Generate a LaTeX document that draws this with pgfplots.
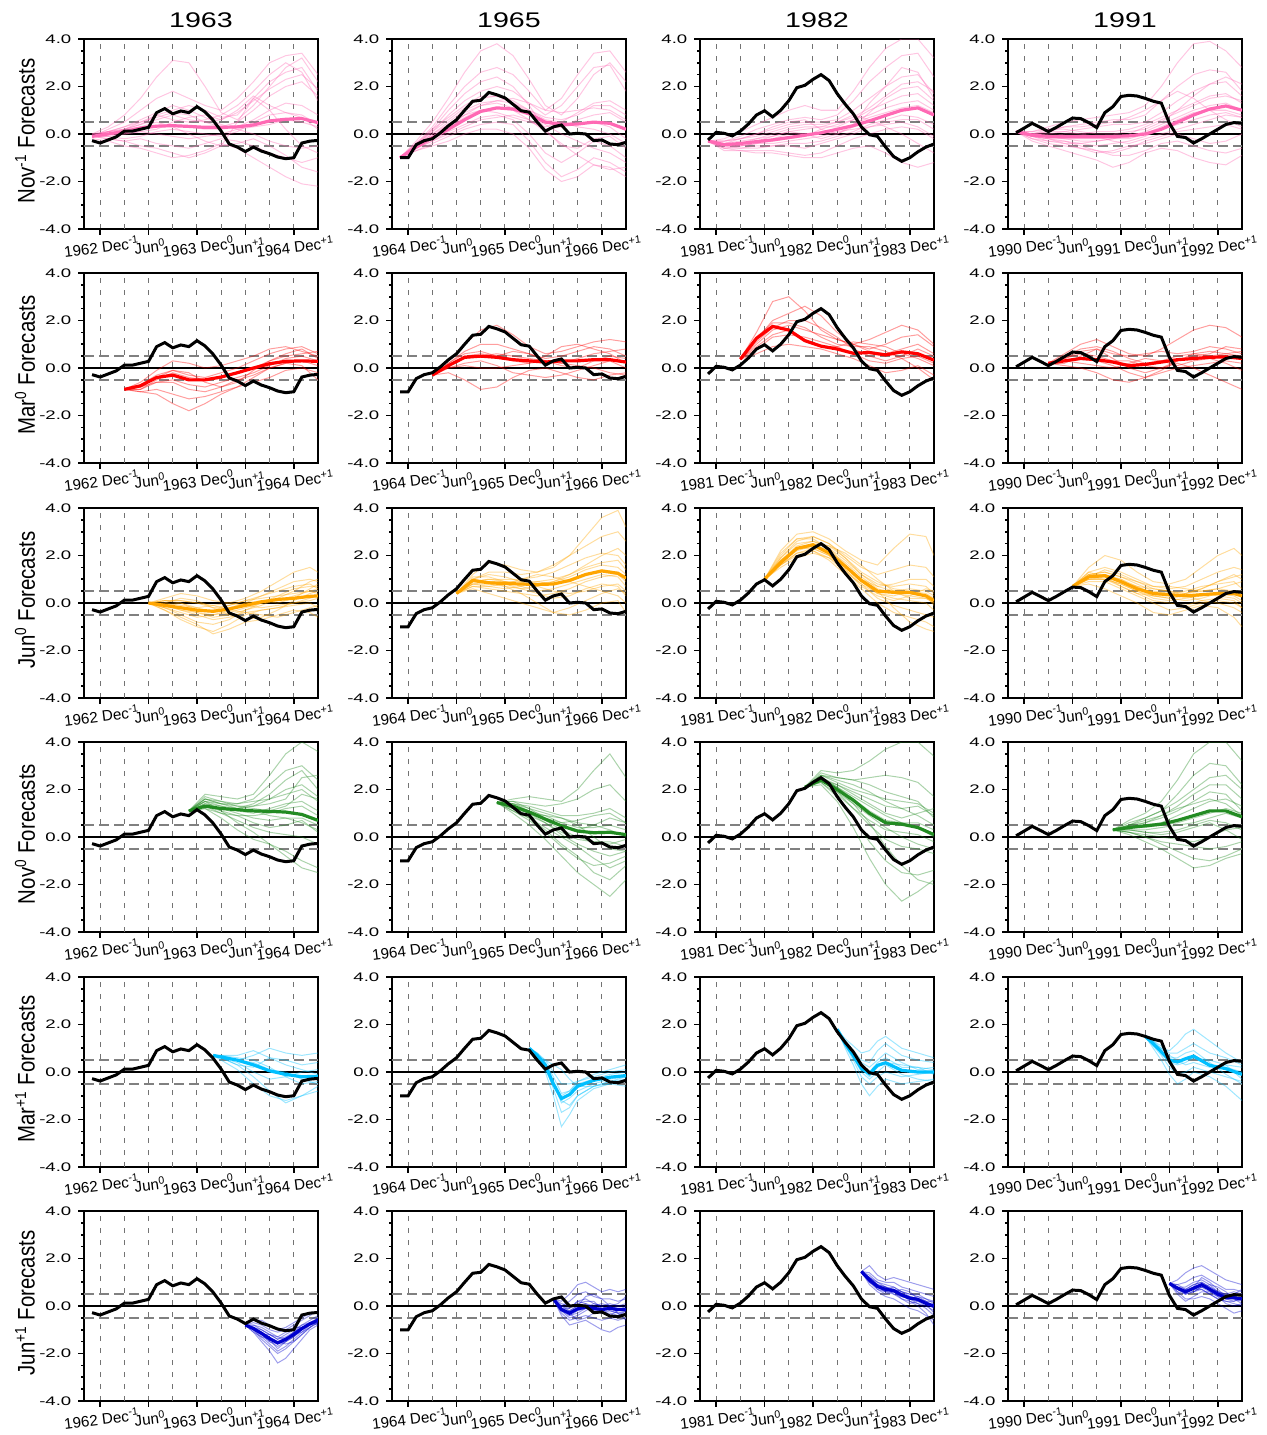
\documentclass[border=0pt]{standalone}
\usepackage{pgfplots}
\usepackage{pgfplotstable}
\pgfplotsset{compat=1.18}
\usepackage{fontspec}
\setmainfont{Liberation Sans}
\newfontfamily\ytickfont{Liberation Sans}[FakeStretch=1.5]
\newfontfamily\titlefont{Liberation Sans}[FakeStretch=1.35]
\newfontfamily\ylabfont{Liberation Sans}[FakeStretch=0.85]

\definecolor{cpink}{HTML}{FF69B4}
\definecolor{cred}{HTML}{FF0000}
\definecolor{corange}{HTML}{FFA500}
\definecolor{cgreen}{HTML}{228B22}
\definecolor{ccyan}{HTML}{00BFFF}
\definecolor{cblue}{HTML}{0000CD}

\pgfplotsset{
  panel/.style={scale only axis, width=117pt, height=95pt, anchor=north west,
    xmin=-2, xmax=27, ymin=-4, ymax=4,
    xtick={0,6,12,18,24}, xmajorgrids,
    extra x ticks={3,9,15,21}, extra x tick labels={},
    extra x tick style={major tick length=0pt, grid=major},
    ytick={-4,-2,0,2,4}, yticklabels={-4.0,-2.0,0.0,2.0,4.0},
    minor y tick num=3,
    tick align=outside, tick pos=left,
    major tick length=2.8pt, minor tick length=1.4pt,
    every tick/.style={black, line width=0.8pt},
    axis line style={line width=1.2pt},
    major grid style={black!55, line width=0.5pt, dash pattern=on 2.5pt off 3.5pt},
    yticklabel style={font=\ytickfont\fontsize{6.2}{7}\selectfont},
    xticklabel style={font=\fontsize{7.6}{8}\selectfont, rotate=7, anchor=north, inner sep=1pt, yshift=-1.5pt},
  },
  mem/.style={line width=0.5pt, opacity=0.38},
  meanl/.style={line width=1.6pt},
  obsl/.style={black, line width=1.5pt},
}

\newcommand{\refl}{%
  \draw[black!50, line width=0.7pt, dash pattern=on 5pt off 2.5pt] (axis cs:-2,0.5) -- (axis cs:27,0.5);
  \draw[black!50, line width=0.7pt, dash pattern=on 5pt off 2.5pt] (axis cs:-2,-0.5) -- (axis cs:27,-0.5);
  \draw[black, line width=0.6pt] (axis cs:-2,0) -- (axis cs:27,0);}

% #1 x, #2 y, #3 year, #4 table, #5 colour, #6 members, #7 observed
\newcommand{\panel}[7]{%
\begin{axis}[panel, at={(#1pt,#2pt)},
  xticklabels={{\the\numexpr#3-1\relax\ Dec\textsuperscript{-1}},{Jun\textsuperscript{0}},{#3 Dec\textsuperscript{0}},{Jun\textsuperscript{+1}},{\the\numexpr#3+1\relax\ Dec\textsuperscript{+1}}}]
\refl
\pgfplotsinvokeforeach{1,...,#6}{\addplot[#5, mem] table[x=x, y=e##1] {#4};}
\addplot[#5, meanl] table[x=x, y=m] {#4};
\addplot[obsl] table[x=x, y=y] {#7};
\end{axis}}

% observed index, one table per event year
\pgfplotstableread[row sep=\\]{x y\\ -1 -0.28\\ 0 -0.38\\ 1 -0.25\\ 2 -0.12\\ 3 0.12\\ 4 0.12\\ 5 0.2\\ 6 0.28\\ 7 0.9\\ 8 1.07\\ 9 0.85\\ 10 0.97\\ 11 0.9\\ 12 1.15\\ 13 0.93\\ 14 0.58\\ 15 0.12\\ 16 -0.42\\ 17 -0.55\\ 18 -0.74\\ 19 -0.55\\ 20 -0.72\\ 21 -0.83\\ 22 -0.97\\ 23 -1.04\\ 24 -1.0\\ 25 -0.38\\ 26 -0.3\\ 27 -0.27\\}\obsA
\pgfplotstableread[row sep=\\]{x y\\ -1 -1.0\\ 0 -1.0\\ 1 -0.45\\ 2 -0.28\\ 3 -0.2\\ 4 0.05\\ 5 0.35\\ 6 0.6\\ 7 1.0\\ 8 1.38\\ 9 1.42\\ 10 1.75\\ 11 1.65\\ 12 1.52\\ 13 1.25\\ 14 0.98\\ 15 0.92\\ 16 0.5\\ 17 0.12\\ 18 0.3\\ 19 0.38\\ 20 0.0\\ 21 0.03\\ 22 0.0\\ 23 -0.28\\ 24 -0.25\\ 25 -0.42\\ 26 -0.45\\ 27 -0.35\\}\obsB
\pgfplotstableread[row sep=\\]{x y\\ -1 -0.25\\ 0 0.07\\ 1 0.03\\ 2 -0.08\\ 3 0.12\\ 4 0.42\\ 5 0.8\\ 6 0.98\\ 7 0.72\\ 8 1.0\\ 9 1.4\\ 10 1.95\\ 11 2.05\\ 12 2.3\\ 13 2.5\\ 14 2.25\\ 15 1.7\\ 16 1.25\\ 17 0.85\\ 18 0.3\\ 19 -0.03\\ 20 -0.1\\ 21 -0.55\\ 22 -0.95\\ 23 -1.15\\ 24 -1.0\\ 25 -0.75\\ 26 -0.55\\ 27 -0.42\\}\obsC
\pgfplotstableread[row sep=\\]{x y\\ -1 0.05\\ 0 0.25\\ 1 0.45\\ 2 0.28\\ 3 0.1\\ 4 0.28\\ 5 0.48\\ 6 0.67\\ 7 0.65\\ 8 0.48\\ 9 0.27\\ 10 0.9\\ 11 1.15\\ 12 1.58\\ 13 1.63\\ 14 1.6\\ 15 1.5\\ 16 1.38\\ 17 1.3\\ 18 0.45\\ 19 -0.1\\ 20 -0.15\\ 21 -0.38\\ 22 -0.2\\ 23 0.0\\ 24 0.2\\ 25 0.4\\ 26 0.48\\ 27 0.45\\}\obsD

% forecasts: one line per member (x, ensemble mean m, members e1...), transposed after reading
% --- Nov^-1 start
\pgfplotstableread[header=false]{
x -1 1 3 5 7 9 11 13 15 17 19 21 23 25 27
m -0.1 0.0 0.1 0.25 0.33 0.35 0.32 0.28 0.28 0.3 0.38 0.55 0.62 0.65 0.48
e1 0 0.3 0.8 1.5 2.4 3.1 3.0 2.0 0.9 0.6 1.2 2.0 2.8 3.2 2.2
e2 -0.1 0.2 0.5 1.0 1.5 1.8 1.5 1.2 1.0 1.5 2.2 3.0 3.3 3.4 2.5
e3 0 0.1 0.3 0.5 0.8 1.0 1.2 1.0 0.7 0.8 1.5 2.2 2.6 2.8 1.8
e4 -0.1 0 0.2 0.4 0.6 0.8 0.6 0.5 0.3 0.5 1.0 1.6 2.0 2.2 1.6
e5 -0.1 0.1 0.1 0.2 0.3 0.4 0.3 0.2 0.2 0.3 0.6 1.0 1.3 1.2 0.8
e6 -0.1 -0.1 0 0.1 0 -0.1 -0.2 -0.1 0 0.2 0.3 0.4 0.6 0.5 0.3
e7 -0.1 -0.2 -0.3 -0.2 -0.4 -0.5 -0.6 -0.4 -0.2 -0.3 -0.5 -0.8 -1.0 -1.2 -1.0
e8 -0.2 -0.3 -0.5 -0.6 -0.8 -1.0 -0.9 -0.7 -0.4 -0.6 -1.0 -1.4 -1.8 -2.1 -2.2
e9 -0.1 -0.2 -0.3 -0.5 -0.6 -0.8 -1.0 -0.8 -0.5 0.5 1.5 1.0 0.2 -0.5 -0.8
e10 0 0.1 0.2 0.4 0.8 0.6 0.5 0.6 0.8 1.2 1.8 2.5 3.0 2.6 1.4
e11 -0.1 0.1 0.3 0.6 0.9 1.2 1.0 0.7 0.4 0.2 0.0 -0.3 -0.5 -0.6 -0.5
e12 -0.1 0.0 0.0 0.1 0.2 0.5 0.7 0.8 0.6 0.9 1.4 1.9 2.3 2.5 1.9
e13 -0.1 -0.1 -0.2 -0.1 0.1 0.2 0.1 0.0 -0.1 0.1 0.5 0.8 0.9 0.7 0.2
e14 -0.1 0.0 0.2 0.3 0.5 0.3 0.0 -0.3 -0.5 -0.4 -0.2 -0.5 -0.9 -1.4 -1.6
e15 -0.1 0.1 0.2 0.5 0.7 0.9 0.8 0.5 0.6 1.0 1.6 1.2 0.9 0.8 0.4
}\rawtab
\pgfplotstabletranspose[colnames from=0]{\TAa}{\rawtab}
\pgfplotstableread[header=false]{
x -1 1 3 5 7 9 11 13 15 17 19 21 23 25 27
m -1.0 -0.55 -0.15 0.2 0.6 0.95 1.1 1.05 0.85 0.5 0.4 0.42 0.5 0.45 0.2
e1 -1 -0.3 0.5 1.5 2.6 3.5 3.8 3.3 2.3 1.2 0.8 1.5 2.5 3.0 2.2
e2 -1 -0.4 0.3 1.2 2.0 2.6 2.8 2.5 1.8 1.0 1.5 2.5 3.4 3.5 2.6
e3 -1 -0.5 0.1 0.8 1.4 1.8 2.0 1.8 1.3 0.8 1.2 2.0 2.8 2.9 1.8
e4 -1 -0.5 0.0 0.5 1.0 1.3 1.4 1.3 1.0 0.7 0.6 0.8 1.2 1.2 0.8
e5 -1 -0.6 -0.1 0.3 0.7 1.0 1.1 1.0 0.6 0.2 0.3 0.6 0.8 0.9 0.5
e6 -1 -0.6 -0.3 0.1 0.4 0.7 0.8 0.6 0.0 -0.8 -1.2 -0.8 -0.3 -0.5 -1.0
e7 -1 -0.7 -0.4 -0.1 0.2 0.4 0.5 0.4 -0.3 -1.2 -1.8 -1.5 -1.0 -1.2 -1.6
e8 -1 -0.7 -0.5 -0.3 0.0 0.2 0.2 0.0 -0.6 -1.5 -2.0 -1.8 -1.3 -1.4 -1.8
e9 -1 -0.5 0.2 1.0 1.7 2.2 2.4 2.0 1.2 0.2 -0.5 -0.6 -0.2 -0.1 -0.6
e10 -1 -0.4 0.2 0.7 1.2 1.6 1.6 1.3 0.9 0.5 0.3 0.4 0.5 0.3 -0.2
e11 -1 -0.5 0.0 0.4 0.9 1.2 1.3 1.1 0.8 0.4 0.0 -0.3 -0.6 -0.8 -1.2
e12 -1 -0.6 -0.2 0.3 0.8 1.2 1.4 1.5 1.3 1.0 0.9 1.0 1.1 1.0 0.6
e13 -1 -0.5 -0.1 0.4 0.8 1.0 0.9 0.7 0.5 0.3 0.5 0.9 1.3 1.4 1.0
e14 -1 -0.6 -0.3 0.0 0.3 0.6 0.7 0.8 0.6 0.1 -0.4 -0.9 -1.3 -1.5 -1.4
e15 -1 -0.4 0.1 0.6 1.1 1.5 1.6 1.4 1.0 0.6 0.5 0.3 0.2 0.0 -0.4
}\rawtab
\pgfplotstabletranspose[colnames from=0]{\TBa}{\rawtab}
\pgfplotstableread[header=false]{
x -1 1 3 5 7 9 11 13 15 17 19 21 23 25 27
m -0.3 -0.45 -0.4 -0.32 -0.25 -0.15 -0.05 0.05 0.2 0.35 0.55 0.78 1.0 1.1 0.8
e1 -0.3 -0.2 0.1 0.4 0.7 1.0 1.2 1.0 1.0 1.8 2.8 3.6 4.0 4.0 3.2
e2 -0.3 -0.3 -0.1 0.2 0.4 0.6 0.7 0.6 0.8 1.4 2.2 2.8 3.3 3.4 2.4
e3 -0.3 -0.4 -0.2 0.0 0.2 0.4 0.5 0.5 0.6 1.0 1.5 2.0 2.4 2.5 1.7
e4 -0.3 -0.5 -0.4 -0.2 0.0 0.2 0.3 0.3 0.3 0.6 1.0 1.3 1.6 1.7 1.2
e5 -0.3 -0.5 -0.5 -0.4 -0.2 0.0 0.0 0.0 0.2 0.4 0.7 0.9 1.1 1.2 0.9
e6 -0.3 -0.6 -0.6 -0.5 -0.5 -0.4 -0.4 -0.3 -0.1 0.1 0.4 0.6 0.8 0.7 0.4
e7 -0.3 -0.7 -0.7 -0.7 -0.7 -0.8 -0.9 -0.8 -0.5 -0.2 0.0 0.2 0.3 0.2 -0.2
e8 -0.3 -0.6 -0.7 -0.8 -0.8 -0.9 -1.0 -1.0 -0.8 -0.6 -0.5 -0.8 -1.2 -1.4 -1.2
e9 -0.3 -0.3 -0.2 0.0 0.3 0.5 0.6 0.2 0.0 0.4 1.3 2.0 2.8 2.6 1.5
e10 -0.3 -0.4 -0.3 -0.2 -0.1 0.1 0.2 0.3 0.5 0.8 0.6 0.3 0.0 -0.4 -0.8
e11 -0.3 -0.5 -0.4 -0.3 -0.1 0.1 0.0 -0.2 0.0 0.3 0.9 1.5 1.9 2.0 1.4
e12 -0.3 -0.4 -0.5 -0.4 -0.3 -0.2 -0.1 0.2 0.4 0.6 0.8 1.1 1.3 1.4 1.0
e13 -0.3 -0.6 -0.5 -0.4 -0.4 -0.3 -0.2 -0.1 0.1 0.2 0.3 0.5 0.6 0.6 0.2
e14 -0.3 -0.3 -0.2 -0.1 0.1 0.3 0.4 0.4 0.5 0.7 1.1 1.6 2.1 2.2 1.8
e15 -0.3 -0.5 -0.6 -0.6 -0.5 -0.5 -0.6 -0.4 -0.2 0.0 0.3 0.4 0.5 0.3 -0.1
}\rawtab
\pgfplotstabletranspose[colnames from=0]{\TCa}{\rawtab}
\pgfplotstableread[header=false]{
x -1 1 3 5 7 9 11 13 15 17 19 21 23 25 27
m 0.1 -0.05 -0.1 -0.12 -0.12 -0.12 -0.1 -0.08 0.0 0.2 0.5 0.8 1.05 1.18 1.0
e1 0.1 0.1 0.3 0.5 0.6 0.7 0.8 0.9 1.2 2.0 3.0 3.8 3.9 3.5 2.8
e2 0.1 0.0 0.1 0.3 0.4 0.5 0.6 0.6 0.8 1.4 2.0 2.5 2.7 2.6 1.8
e3 0.1 0.0 0.0 0.1 0.2 0.3 0.4 0.4 0.5 0.9 1.4 1.8 2.1 2.2 1.6
e4 0.1 -0.1 -0.1 0.0 0.0 0.1 0.1 0.2 0.4 0.7 1.0 1.3 1.6 1.7 1.3
e5 0.1 -0.1 -0.2 -0.2 -0.2 -0.2 -0.2 -0.1 0.1 0.4 0.7 1.0 1.2 1.3 1.0
e6 0.1 -0.2 -0.3 -0.4 -0.4 -0.5 -0.4 -0.3 -0.1 0.2 0.4 0.6 0.8 0.9 0.7
e7 0.1 -0.2 -0.4 -0.5 -0.6 -0.7 -0.8 -0.6 -0.3 -0.1 0.1 0.2 0.3 0.4 0.2
e8 0.1 -0.3 -0.5 -0.7 -0.9 -1.1 -1.4 -1.2 -0.8 -0.6 -0.7 -1.0 -1.2 -1.3 -0.9
e9 0.1 -0.1 -0.2 -0.3 -0.5 -0.7 -0.9 -0.9 -0.7 -0.4 -0.3 -0.5 -0.7 -0.8 -0.6
e10 0.1 0.0 0.2 0.3 0.3 0.4 0.5 0.7 1.0 1.4 1.8 1.5 1.0 0.6 0.3
e11 0.1 0.0 -0.1 -0.2 -0.3 -0.3 -0.2 0.0 0.3 0.6 0.9 1.2 1.5 1.6 1.4
e12 0.1 -0.1 -0.3 -0.3 -0.4 -0.3 -0.2 -0.2 0.0 0.3 0.6 0.9 1.0 1.0 0.8
e13 0.1 0.0 0.1 0.1 0.0 -0.1 -0.3 -0.4 -0.2 0.0 0.2 0.4 0.6 0.8 0.7
e14 0.1 -0.1 -0.2 -0.4 -0.6 -0.8 -0.7 -0.5 -0.4 -0.2 0.0 -0.2 -0.4 -0.3 0.0
e15 0.1 0.1 0.2 0.2 0.1 0.0 0.0 0.1 0.2 0.5 1.0 1.6 2.1 2.4 2.1
}\rawtab
\pgfplotstabletranspose[colnames from=0]{\TDa}{\rawtab}
% --- Mar^0 start
\pgfplotstableread[header=false]{
x 3 5 7 9 11 13 15 17 19 21 23 25 27
m -0.9 -0.75 -0.4 -0.3 -0.5 -0.5 -0.38 -0.2 0.0 0.18 0.28 0.3 0.28
e1 -0.9 -0.6 -0.1 0.3 0.2 0.0 0.1 0.3 0.5 0.8 0.9 0.7 0.5
e2 -0.9 -0.8 -0.4 -0.1 -0.3 -0.4 -0.2 0.0 0.3 0.6 0.8 0.9 0.6
e3 -0.9 -0.9 -0.6 -0.5 -0.7 -0.8 -0.6 -0.4 -0.2 0.1 0.4 0.5 0.3
e4 -0.9 -1.0 -1.1 -1.5 -1.8 -1.5 -1.1 -0.8 -0.4 0.0 0.2 0.3 0.1
e5 -0.9 -1.0 -0.9 -1.1 -1.3 -1.2 -1.0 -0.8 -0.6 -0.4 -0.1 0.0 -0.2
e6 -0.9 -0.7 -0.3 -0.1 -0.2 -0.6 -0.8 -0.6 -0.1 0.3 0.5 0.6 0.7
e7 -0.9 -0.8 -0.6 -0.6 -0.9 -1.0 -0.8 -0.5 -0.3 0.0 0.2 0.1 -0.5
e8 -0.9 -0.9 -0.5 -0.2 -0.4 -0.5 -0.4 -0.2 0.0 0.3 0.6 0.8 0.4
}\rawtab
\pgfplotstabletranspose[colnames from=0]{\TAb}{\rawtab}
\pgfplotstableread[header=false]{
x 3 5 7 9 11 13 15 17 19 21 23 25 27
m -0.3 0.1 0.45 0.5 0.45 0.35 0.3 0.25 0.3 0.3 0.35 0.35 0.25
e1 -0.3 0.3 1.0 1.6 1.8 1.4 0.9 0.6 0.7 0.9 1.1 1.2 1.1
e2 -0.3 0.2 0.7 1.0 1.0 0.8 0.6 0.4 0.5 0.7 0.9 0.8 0.5
e3 -0.3 0.1 0.4 0.5 0.6 0.5 0.4 0.3 0.2 0.4 0.6 0.7 0.8
e4 -0.3 0.0 0.1 0.0 0.0 0.1 0.2 0.3 0.2 0.1 0.0 -0.2 -0.3
e5 -0.3 -0.2 -0.5 -0.9 -0.8 -0.4 -0.1 0.0 -0.2 -0.4 -0.5 -0.3 -0.2
e6 -0.3 0.2 0.6 0.7 0.5 0.3 0.2 0.5 0.9 1.0 0.8 0.6 0.2
e7 -0.3 0.0 0.2 0.3 0.1 -0.2 -0.3 -0.4 -0.3 -0.1 0.1 0.3 0.0
e8 -0.3 0.1 0.5 0.6 0.5 0.7 0.6 0.3 0.1 0.0 0.3 0.5 0.4
}\rawtab
\pgfplotstabletranspose[colnames from=0]{\TBb}{\rawtab}
\pgfplotstableread[header=false]{
x 3 5 7 9 11 13 15 17 19 21 23 25 27
m 0.37 1.25 1.75 1.6 1.15 0.92 0.8 0.62 0.65 0.55 0.68 0.6 0.33
e1 0.37 1.5 2.8 3.0 2.4 1.6 1.2 1.0 1.2 1.5 1.8 1.6 1.0
e2 0.37 1.2 2.0 2.3 2.6 2.2 1.5 1.0 0.8 1.0 1.3 1.4 0.9
e3 0.37 1.0 1.6 1.8 1.6 1.4 1.2 1.0 0.7 0.6 0.8 1.0 0.6
e4 0.37 0.8 1.3 1.4 1.3 1.1 0.9 0.6 0.3 0.2 0.4 0.5 0.2
e5 0.37 0.6 0.9 1.0 0.9 0.8 0.6 0.4 0.1 -0.2 -0.1 0.1 -0.3
e6 0.37 1.3 1.9 1.9 1.7 1.3 1.0 0.9 0.9 0.7 0.4 0.0 -0.5
e7 0.37 1.1 1.7 2.0 2.0 1.7 1.3 0.8 0.5 0.3 0.5 0.8 0.5
e8 0.37 0.9 1.4 1.6 1.2 0.9 0.9 1.1 1.0 0.9 0.6 0.4 0.1
}\rawtab
\pgfplotstabletranspose[colnames from=0]{\TCb}{\rawtab}
\pgfplotstableread[header=false]{
x 3 5 7 9 11 13 15 17 19 21 23 25 27
m 0.2 0.3 0.4 0.35 0.25 0.1 0.15 0.25 0.35 0.4 0.45 0.47 0.4
e1 0.2 0.6 1.0 1.2 0.9 0.6 0.5 0.8 1.2 1.6 1.8 1.7 1.3
e2 0.2 0.4 0.7 0.8 0.6 0.5 0.6 0.7 0.6 0.7 0.9 0.8 0.6
e3 0.2 0.3 0.4 0.3 0.1 -0.2 -0.4 -0.1 0.3 0.6 0.7 0.6 0.5
e4 0.2 0.1 0.0 -0.2 -0.5 -0.6 -0.4 -0.2 0.0 0.1 0.2 0.3 0.2
e5 0.2 0.2 0.5 0.8 0.4 0.0 -0.2 0.0 0.2 0.0 -0.3 -0.6 -0.9
e6 0.2 0.5 0.8 0.9 0.7 0.4 0.2 0.3 0.5 0.6 0.5 0.6 0.7
e7 0.2 0.3 0.2 0.1 0.0 0.2 0.4 0.3 0.1 0.3 0.4 0.2 -0.1
e8 0.2 0.4 0.6 0.5 0.3 0.3 0.1 0.0 0.3 0.5 0.6 0.9 0.8
}\rawtab
\pgfplotstabletranspose[colnames from=0]{\TDb}{\rawtab}
% --- Jun^0 start
\pgfplotstableread[header=false]{
x 6 8 10 12 14 16 18 20 22 24 26 27
m 0 -0.1 -0.2 -0.3 -0.35 -0.25 -0.1 0.05 0.15 0.2 0.28 0.3
e1 0 0.2 0.4 0.3 0.1 0.0 0.2 0.5 0.9 1.3 1.5 1.3
e2 0 0.1 0.1 0.0 -0.2 -0.1 0.1 0.3 0.6 0.9 1.0 0.9
e3 0 -0.2 -0.4 -0.6 -0.5 -0.3 0.0 0.3 0.5 0.7 0.8 0.6
e4 0 -0.3 -0.7 -1.0 -1.2 -0.9 -0.5 -0.3 -0.2 0.0 0.2 0.3
e5 0 -0.1 -0.3 -0.5 -0.7 -0.6 -0.4 -0.5 -0.6 -0.4 -0.2 -0.1
e6 0 0.0 0.2 0.1 -0.2 -0.5 -0.7 -0.6 -0.3 0.1 0.4 0.5
e7 0 -0.2 -0.5 -0.8 -0.9 -0.7 -0.3 0.0 0.3 0.6 0.7 0.7
e8 0 -0.1 0.0 -0.3 -0.3 -0.1 0.1 0.2 0.3 0.4 0.5 0.4
e9 0 -0.3 -0.6 -0.9 -1.3 -1.1 -0.8 -0.7 -0.5 -0.3 -0.4 -0.6
e10 0 0.1 0.0 -0.2 -0.4 -0.2 0.0 0.1 0.0 0.2 0.6 0.8
e11 0 -0.1 -0.3 -0.4 -0.5 -0.4 -0.2 0.0 0.1 0.3 0.5 0.6
e12 0 0.0 -0.1 -0.2 -0.1 0.0 -0.1 -0.2 -0.1 0.0 0.1 0.2
e13 0 -0.2 -0.2 -0.4 -0.6 -0.5 -0.3 -0.1 0.2 0.5 0.9 1.0
e14 0 0.1 0.1 0.0 -0.1 -0.3 -0.4 -0.3 -0.2 -0.1 0.0 -0.2
}\rawtab
\pgfplotstabletranspose[colnames from=0]{\TAc}{\rawtab}
\pgfplotstableread[header=false]{
x 6 8 10 12 14 16 18 20 22 24 26 27
m 0.4 0.95 0.85 0.82 0.8 0.78 0.8 0.95 1.2 1.35 1.25 1.05
e1 0.4 1.2 1.7 1.6 1.4 1.3 1.5 2.0 2.8 3.6 3.9 3.2
e2 0.4 1.0 1.3 1.3 1.2 1.3 1.6 2.0 2.4 2.8 3.0 2.6
e3 0.4 0.9 1.0 1.0 1.0 1.1 1.3 1.6 1.9 2.1 2.0 1.6
e4 0.4 0.8 0.8 0.7 0.6 0.7 0.9 1.2 1.5 1.7 1.8 1.4
e5 0.4 0.7 0.6 0.5 0.4 0.3 0.4 0.6 0.9 1.1 1.2 0.9
e6 0.4 0.6 0.4 0.2 0.0 -0.2 -0.4 -0.2 0.1 0.4 0.6 0.4
e7 0.4 0.8 0.9 0.7 0.4 0.0 -0.4 -0.5 -0.3 0.0 0.1 -0.4
e8 0.4 1.0 1.2 1.1 0.9 0.7 0.5 0.4 0.5 0.7 0.8 0.5
e9 0.4 0.9 1.0 0.9 0.9 0.9 0.8 0.9 1.2 1.4 1.3 1.0
e10 0.4 0.7 0.7 0.8 1.0 1.2 1.1 0.9 0.7 0.5 0.3 0.0
e11 0.4 0.9 0.9 0.9 0.8 0.8 0.9 1.1 1.4 1.6 1.5 1.2
e12 0.4 1.1 1.1 0.9 0.7 0.5 0.6 0.8 1.0 1.2 1.1 0.7
e13 0.4 0.8 0.7 0.6 0.7 0.9 1.0 1.2 1.6 2.0 2.3 2.0
e14 0.4 1.0 0.9 0.8 0.6 0.4 0.2 0.3 0.6 0.8 0.7 0.3
}\rawtab
\pgfplotstabletranspose[colnames from=0]{\TBc}{\rawtab}
\pgfplotstableread[header=false]{
x 6 8 10 12 14 16 18 20 22 24 26 27
m 1.0 1.7 2.3 2.45 2.1 1.55 0.95 0.5 0.45 0.44 0.3 0.1
e1 1.0 2.2 2.9 3.0 2.7 2.2 1.8 1.6 2.3 2.9 2.8 2.0
e2 1.0 2.0 2.7 2.8 2.5 2.0 1.5 1.2 1.4 1.6 1.5 1.1
e3 1.0 1.9 2.5 2.6 2.3 1.8 1.2 0.8 0.7 0.8 0.7 0.4
e4 1.0 1.7 2.2 2.4 2.1 1.5 0.9 0.4 0.2 0.1 0.0 -0.3
e5 1.0 1.6 2.0 2.2 1.8 1.2 0.6 0.0 -0.4 -0.6 -0.8 -1.0
e6 1.0 1.5 1.9 2.1 1.9 1.5 1.0 0.5 -0.2 -0.8 -1.1 -1.2
e7 1.0 1.8 2.4 2.6 2.4 1.9 1.3 0.9 0.6 0.5 0.3 -0.1
e8 1.0 2.1 2.7 2.7 2.3 1.6 1.0 0.7 0.8 1.0 1.0 0.7
e9 1.0 1.8 2.3 2.5 2.4 2.1 1.6 1.0 0.5 0.2 0.2 0.0
e10 1.0 1.6 2.1 2.3 2.0 1.4 0.7 0.3 0.1 0.3 0.6 0.5
e11 1.0 1.8 2.3 2.5 2.2 1.7 1.1 0.6 0.4 0.3 0.2 0.0
e12 1.0 1.7 2.3 2.3 2.0 1.4 0.8 0.4 0.3 0.5 0.4 0.2
e13 1.0 1.9 2.6 2.8 2.5 1.9 1.2 0.7 0.5 0.6 0.5 0.3
e14 1.0 1.6 2.1 2.2 1.9 1.3 0.8 0.2 -0.1 -0.3 -0.5 -0.6
}\rawtab
\pgfplotstabletranspose[colnames from=0]{\TCc}{\rawtab}
\pgfplotstableread[header=false]{
x 6 8 10 12 14 16 18 20 22 24 26 27
m 0.7 1.1 1.15 0.9 0.6 0.4 0.35 0.3 0.35 0.4 0.4 0.3
e1 0.7 1.5 2.0 1.8 1.3 0.9 0.8 1.0 1.5 2.0 2.3 2.0
e2 0.7 1.3 1.5 1.3 1.0 0.7 0.6 0.7 1.0 1.3 1.5 1.4
e3 0.7 1.2 1.3 1.1 0.8 0.5 0.4 0.5 0.7 0.8 0.9 0.6
e4 0.7 1.0 1.0 0.8 0.5 0.2 0.1 0.2 0.3 0.4 0.5 0.5
e5 0.7 0.9 0.9 0.6 0.3 0.0 -0.3 -0.2 0.0 0.1 0.0 -0.2
e6 0.7 0.8 0.6 0.3 0.0 -0.4 -0.5 -0.3 -0.1 -0.2 -0.6 -1.0
e7 0.7 1.2 1.2 0.9 0.7 0.6 0.5 0.3 0.1 0.0 -0.2 -0.4
e8 0.7 1.1 1.4 1.2 0.9 0.7 0.7 0.6 0.5 0.6 0.8 0.9
e9 0.7 1.0 1.1 1.0 0.7 0.4 0.3 0.4 0.6 0.9 1.1 1.2
e10 0.7 1.3 1.1 0.7 0.4 0.3 0.2 0.1 0.2 0.4 0.3 0.1
e11 0.7 1.1 1.2 1.0 0.6 0.3 0.3 0.4 0.5 0.6 0.5 0.3
e12 0.7 1.0 1.0 0.8 0.5 0.3 0.2 0.3 0.4 0.3 0.2 0.0
e13 0.7 1.2 1.3 1.1 0.9 0.6 0.5 0.4 0.6 0.9 1.2 1.0
e14 0.7 1.1 1.0 0.7 0.4 0.1 0.0 -0.1 0.1 0.2 0.1 -0.2
}\rawtab
\pgfplotstabletranspose[colnames from=0]{\TDc}{\rawtab}
% --- Nov^0 start
\pgfplotstableread[header=false]{
x 11 13 15 17 19 21 23 25 27
m 1.1 1.3 1.2 1.15 1.1 1.08 1.05 0.95 0.7
e1 1.1 1.8 1.7 1.6 1.8 2.6 3.5 4.0 3.6
e2 1.1 1.7 1.5 1.4 1.6 2.2 2.8 3.0 2.4
e3 1.1 1.6 1.4 1.2 1.3 1.6 2.0 2.2 1.7
e4 1.1 1.5 1.3 1.1 1.0 1.2 1.4 1.5 1.1
e5 1.1 1.4 1.2 1.0 0.8 0.7 0.8 0.8 0.5
e6 1.1 1.3 1.0 0.7 0.4 0.2 0.1 0.0 -0.3
e7 1.1 1.2 0.8 0.3 -0.1 -0.3 -0.6 -1.0 -1.3
e8 1.1 1.5 1.1 0.6 0.2 -0.3 -0.8 -1.3 -1.5
e9 1.1 1.6 1.5 1.3 1.2 1.1 1.3 1.8 1.6
e10 1.1 1.3 1.2 1.2 1.4 1.8 2.4 2.8 2.0
e11 1.1 1.5 1.4 1.4 1.5 1.6 1.8 2.0 1.5
e12 1.1 1.4 1.3 1.2 1.1 0.9 0.8 0.6 0.3
e13 1.1 1.2 1.0 0.9 0.9 1.0 1.2 1.3 0.9
e14 1.1 1.3 1.1 0.9 0.6 0.4 0.5 0.7 0.2
e15 1.1 1.6 1.4 1.3 1.3 1.4 1.6 2.5 2.6
}\rawtab
\pgfplotstabletranspose[colnames from=0]{\TAd}{\rawtab}
\pgfplotstableread[header=false]{
x 11 13 15 17 19 21 23 25 27
m 1.45 1.3 1.05 0.75 0.47 0.25 0.18 0.2 0.1
e1 1.45 1.6 1.7 1.6 1.5 2.0 2.8 3.5 2.5
e2 1.45 1.5 1.4 1.3 1.4 1.6 2.0 2.2 1.5
e3 1.45 1.4 1.3 1.1 0.9 0.9 1.0 1.2 0.8
e4 1.45 1.3 1.1 0.9 0.6 0.4 0.4 0.5 0.3
e5 1.45 1.2 0.9 0.6 0.2 -0.1 -0.2 -0.2 -0.4
e6 1.45 1.1 0.7 0.2 -0.4 -0.9 -1.2 -1.1 -0.8
e7 1.45 1.0 0.5 -0.1 -0.8 -1.5 -2.0 -2.5 -1.8
e8 1.45 1.2 0.8 0.3 -0.3 -0.8 -1.5 -1.8 -1.2
e9 1.45 1.5 1.2 0.8 0.5 0.3 0.5 0.8 0.6
e10 1.45 1.3 1.0 0.9 0.8 0.5 0.0 -0.5 -0.6
e11 1.45 1.4 1.2 1.0 0.8 0.6 0.5 0.3 0.0
e12 1.45 1.3 1.0 0.6 0.1 -0.3 -0.6 -0.8 -0.6
e13 1.45 1.2 1.0 0.8 0.6 0.7 0.9 1.0 0.6
e14 1.45 1.4 1.1 0.7 0.3 0.0 -0.2 -0.3 -0.1
e15 1.45 1.1 0.8 0.4 0.0 -0.4 -0.9 -1.3 -1.0
}\rawtab
\pgfplotstabletranspose[colnames from=0]{\TBd}{\rawtab}
\pgfplotstableread[header=false]{
x 11 13 15 17 19 21 23 25 27
m 2.1 2.4 2.0 1.55 1.0 0.6 0.54 0.4 0.1
e1 2.1 2.8 2.7 2.8 3.2 3.7 4.0 4.0 3.4
e2 2.1 2.7 2.5 2.4 2.5 2.6 2.5 2.3 1.7
e3 2.1 2.6 2.3 2.0 1.8 1.6 1.5 1.4 1.0
e4 2.1 2.5 2.1 1.6 1.1 0.7 0.6 0.6 0.3
e5 2.1 2.4 1.9 1.2 0.5 -0.1 -0.4 -0.5 -0.7
e6 2.1 2.3 1.7 0.8 -0.2 -1.0 -1.5 -1.6 -1.4
e7 2.1 2.2 1.5 0.4 -0.9 -2.0 -2.7 -2.3 -1.8
e8 2.1 2.5 2.0 1.4 0.6 -0.4 -1.2 -1.8 -2.0
e9 2.1 2.6 2.4 2.2 1.9 1.5 1.2 0.9 0.5
e10 2.1 2.4 2.2 1.8 1.4 1.0 0.8 1.0 1.2
e11 2.1 2.5 2.2 1.9 1.6 1.3 1.2 1.3 0.9
e12 2.1 2.3 1.8 1.2 0.7 0.3 0.2 0.1 -0.2
e13 2.1 2.6 2.5 2.4 2.2 1.9 1.7 1.5 0.8
e14 2.1 2.4 1.9 1.4 0.9 0.4 0.0 -0.3 -0.5
e15 2.1 2.5 2.1 1.7 1.3 0.9 0.6 0.4 0.0
}\rawtab
\pgfplotstabletranspose[colnames from=0]{\TCd}{\rawtab}
\pgfplotstableread[header=false]{
x 11 13 15 17 19 21 23 25 27
m 0.3 0.4 0.47 0.54 0.7 0.9 1.1 1.1 0.85
e1 0.3 0.7 1.0 1.5 2.4 3.5 4.0 4.0 3.2
e2 0.3 0.6 0.8 1.1 1.8 2.6 3.1 3.0 2.2
e3 0.3 0.5 0.6 0.9 1.3 1.8 2.2 2.2 1.6
e4 0.3 0.4 0.5 0.6 0.9 1.2 1.5 1.6 1.3
e5 0.3 0.3 0.3 0.4 0.5 0.6 0.8 1.0 0.8
e6 0.3 0.2 0.1 0.0 -0.1 -0.2 0.0 0.3 0.4
e7 0.3 0.2 0.0 -0.3 -0.6 -0.9 -1.0 -0.8 -0.5
e8 0.3 0.1 -0.2 -0.5 -0.9 -1.3 -1.2 -0.9 -0.7
e9 0.3 0.4 0.6 0.8 1.1 1.5 1.9 1.8 1.1
e10 0.3 0.3 0.2 0.1 0.2 0.4 0.6 0.3 -0.1
e11 0.3 0.5 0.7 0.9 1.2 1.4 1.6 1.4 0.9
e12 0.3 0.4 0.4 0.5 0.6 0.8 1.0 1.2 1.0
e13 0.3 0.3 0.2 0.2 0.3 0.5 0.7 0.6 0.3
e14 0.3 0.5 0.8 1.1 1.5 2.0 2.5 2.6 2.0
e15 0.3 0.2 0.0 -0.2 -0.3 -0.4 -0.5 -0.4 -0.2
}\rawtab
\pgfplotstabletranspose[colnames from=0]{\TDd}{\rawtab}
% --- Mar^+1 start
\pgfplotstableread[header=false]{
x 14 15 17 19 21 23 25 27
m 0.7 0.63 0.5 0.3 0.05 -0.1 -0.2 -0.18
e1 0.7 0.7 0.5 0.7 1.0 0.8 0.7 0.8
e2 0.7 0.6 0.3 0.2 0.6 0.5 0.3 0.4
e3 0.7 0.6 0.4 0.0 -0.3 -0.2 0.0 0.1
e4 0.7 0.5 0.1 -0.5 -1.0 -1.2 -1.0 -0.6
e5 0.7 0.6 0.3 -0.2 -0.8 -1.3 -1.0 -0.8
e6 0.7 0.7 0.6 0.5 0.2 -0.2 -0.5 -0.4
e7 0.7 0.6 0.5 0.4 0.1 0.0 -0.3 -0.5
e8 0.7 0.7 0.7 0.9 0.6 0.3 0.1 -0.1
}\rawtab
\pgfplotstabletranspose[colnames from=0]{\TAe}{\rawtab}
\pgfplotstableread[header=false]{
x 15 16 17 18 19 20 21 23 25 27
m 1.0 0.7 0.3 -0.5 -1.12 -0.95 -0.6 -0.35 -0.22 -0.15
e1 1.0 0.6 0.0 -1.0 -2.3 -1.8 -1.2 -0.7 -0.5 -0.4
e2 1.0 0.7 0.2 -0.7 -1.7 -1.5 -1.0 -0.6 -0.4 -0.3
e3 1.0 0.7 0.3 -0.5 -1.3 -1.1 -0.8 -0.5 -0.3 -0.2
e4 1.0 0.8 0.4 -0.2 -0.9 -0.8 -0.5 -0.3 -0.1 0.0
e5 1.0 0.8 0.5 0.0 -0.5 -0.5 -0.4 -0.2 0.0 0.1
e6 1.0 0.7 0.5 0.3 0.1 -0.3 -0.6 -0.6 -0.5 -0.6
e7 1.0 0.6 0.1 -0.6 -1.0 -0.8 -0.4 -0.1 0.1 0.3
e8 1.0 0.7 0.3 -0.4 -1.2 -1.4 -1.0 -0.6 -0.4 -0.2
}\rawtab
\pgfplotstabletranspose[colnames from=0]{\TBe}{\rawtab}
\pgfplotstableread[header=false]{
x 15 16 17 18 19 20 21 23 25 27
m 1.8 1.2 0.7 0.15 -0.07 0.28 0.39 0.07 0.0 0.0
e1 1.8 1.4 1.1 0.8 0.9 1.3 1.5 1.0 0.8 0.6
e2 1.8 1.3 0.9 0.5 0.4 0.9 1.2 0.7 0.5 0.4
e3 1.8 1.2 0.7 0.2 0.0 0.4 0.6 0.2 0.2 0.1
e4 1.8 1.1 0.5 -0.2 -0.5 -0.2 0.0 -0.2 -0.1 0.0
e5 1.8 1.0 0.3 -0.5 -1.0 -0.6 -0.3 -0.5 -0.4 -0.3
e6 1.8 1.2 0.6 0.0 -0.3 0.0 0.3 -0.1 -0.3 -0.4
e7 1.8 1.3 0.8 0.4 0.2 0.5 0.8 0.4 0.1 0.2
e8 1.8 1.1 0.6 0.1 -0.2 0.2 0.4 0.3 0.2 -0.1
}\rawtab
\pgfplotstabletranspose[colnames from=0]{\TCe}{\rawtab}
\pgfplotstableread[header=false]{
x 15 16 17 18 19 20 21 23 25 27
m 1.5 1.2 0.85 0.5 0.42 0.56 0.67 0.28 0.14 -0.1
e1 1.5 1.3 1.0 0.9 1.2 1.6 1.8 1.3 0.8 0.4
e2 1.5 1.3 1.1 0.8 0.8 1.0 1.2 0.8 0.6 0.3
e3 1.5 1.2 0.9 0.5 0.4 0.5 0.6 0.3 0.2 0.0
e4 1.5 1.1 0.7 0.2 -0.1 0.0 0.2 0.0 -0.2 -0.4
e5 1.5 1.0 0.5 -0.1 -0.5 -0.3 0.0 -0.2 -0.6 -1.2
e6 1.5 1.2 0.8 0.4 0.3 0.4 0.6 0.5 0.3 -0.3
e7 1.5 1.1 0.8 0.6 0.6 0.8 0.9 0.4 -0.1 -0.5
e8 1.5 1.2 1.0 0.7 0.5 0.3 0.4 0.2 0.3 0.2
}\rawtab
\pgfplotstabletranspose[colnames from=0]{\TDe}{\rawtab}
% --- Jun^+1 start
\pgfplotstableread[header=false]{
x 18 19 20 21 22 23 24 25 26 27
m -0.8 -0.95 -1.15 -1.37 -1.55 -1.4 -1.2 -0.95 -0.75 -0.6
e1 -0.8 -1.1 -1.5 -1.9 -2.4 -2.2 -1.8 -1.4 -1.0 -0.8
e2 -0.8 -1.0 -1.4 -1.7 -2.0 -1.8 -1.5 -1.2 -0.9 -0.7
e3 -0.8 -0.9 -1.2 -1.5 -1.7 -1.5 -1.3 -1.0 -0.8 -0.6
e4 -0.8 -0.8 -1.0 -1.2 -1.4 -1.2 -1.0 -0.8 -0.6 -0.4
e5 -0.8 -0.7 -0.8 -1.0 -1.1 -1.0 -0.8 -0.6 -0.4 -0.2
e6 -0.8 -0.6 -0.6 -0.8 -1.0 -0.9 -0.7 -0.5 -0.3 -0.3
e7 -0.8 -1.0 -1.3 -1.4 -1.5 -1.6 -1.5 -1.2 -0.9 -0.7
e8 -0.8 -0.9 -1.1 -1.4 -1.8 -1.5 -1.1 -0.8 -0.7 -0.8
e9 -0.8 -1.0 -1.2 -1.2 -1.3 -1.1 -0.9 -0.9 -0.8 -0.5
e10 -0.8 -0.8 -0.9 -1.1 -1.3 -1.4 -1.2 -1.1 -0.9 -0.6
e11 -0.8 -0.9 -1.1 -1.3 -1.6 -1.5 -1.3 -1.0 -0.7 -0.5
e12 -0.8 -1.0 -1.2 -1.5 -1.6 -1.4 -1.1 -0.9 -0.8 -0.7
e13 -0.8 -1.1 -1.3 -1.6 -1.9 -1.7 -1.4 -1.1 -0.8 -0.5
e14 -0.8 -0.9 -1.0 -1.2 -1.4 -1.3 -1.1 -0.9 -0.7 -0.6
}\rawtab
\pgfplotstabletranspose[colnames from=0]{\TAf}{\rawtab}
\pgfplotstableread[header=false]{
x 18 19 20 21 22 23 24 25 26 27
m 0.3 -0.15 -0.3 -0.12 -0.05 -0.1 -0.15 -0.1 -0.15 -0.15
e1 0.3 0.2 0.5 0.9 1.0 0.8 0.6 0.7 0.6 0.7
e2 0.3 0.0 0.2 0.5 0.6 0.4 0.3 0.3 0.2 0.3
e3 0.3 -0.1 -0.1 0.2 0.3 0.1 0.0 0.1 0.0 0.0
e4 0.3 -0.2 -0.4 -0.2 -0.1 -0.2 -0.3 -0.2 -0.3 -0.2
e5 0.3 -0.3 -0.6 -0.5 -0.4 -0.5 -0.6 -0.5 -0.6 -0.5
e6 0.3 -0.4 -0.8 -0.7 -0.6 -0.8 -1.0 -1.1 -0.9 -0.8
e7 0.3 -0.2 -0.5 -0.4 -0.2 0.0 0.1 0.0 -0.3 -0.6
e8 0.3 0.1 0.0 0.1 0.2 0.2 -0.1 -0.4 -0.5 -0.3
e9 0.3 -0.1 -0.3 -0.6 -0.5 -0.3 -0.2 -0.4 -0.2 0.0
e10 0.3 0.0 -0.2 0.0 0.4 0.5 0.3 0.0 0.1 0.4
e11 0.3 -0.1 -0.2 0.0 0.1 0.0 -0.1 0.0 -0.1 -0.1
e12 0.3 -0.2 -0.3 -0.1 0.0 -0.2 -0.2 -0.1 0.0 0.1
e13 0.3 -0.1 -0.4 -0.3 -0.1 0.1 0.0 -0.2 -0.3 -0.3
e14 0.3 0.0 -0.1 0.2 0.1 -0.1 -0.3 -0.3 -0.4 -0.2
}\rawtab
\pgfplotstabletranspose[colnames from=0]{\TBf}{\rawtab}
\pgfplotstableread[header=false]{
x 18 19 20 21 22 23 24 25 26 27
m 1.45 1.1 0.82 0.7 0.65 0.47 0.33 0.28 0.11 0.0
e1 1.45 1.7 1.3 1.1 1.2 1.1 1.0 0.9 0.8 0.7
e2 1.45 1.4 1.1 1.0 1.0 0.8 0.7 0.6 0.5 0.4
e3 1.45 1.2 0.9 0.8 0.7 0.6 0.5 0.4 0.3 0.1
e4 1.45 1.0 0.7 0.6 0.5 0.3 0.2 0.1 0.0 -0.2
e5 1.45 0.9 0.6 0.4 0.3 0.1 -0.1 -0.2 -0.4 -0.6
e6 1.45 1.1 0.8 0.6 0.7 0.5 0.2 0.0 -0.3 -0.8
e7 1.45 1.3 1.0 0.9 0.8 0.6 0.5 0.5 0.3 0.2
e8 1.45 1.0 0.8 0.8 0.6 0.4 0.3 0.4 0.2 -0.1
e9 1.45 1.2 0.9 0.7 0.6 0.7 0.6 0.3 0.1 -0.3
e10 1.45 1.1 0.7 0.5 0.6 0.3 0.1 0.2 0.0 0.1
e11 1.45 1.2 0.9 0.8 0.7 0.5 0.4 0.3 0.2 0.0
e12 1.45 1.1 0.8 0.6 0.6 0.4 0.3 0.2 0.1 -0.1
e13 1.45 1.0 0.8 0.7 0.8 0.6 0.4 0.3 0.2 0.2
e14 1.45 1.2 1.0 0.8 0.5 0.4 0.3 0.1 -0.1 -0.4
}\rawtab
\pgfplotstabletranspose[colnames from=0]{\TCf}{\rawtab}
\pgfplotstableread[header=false]{
x 18 19 20 21 22 23 24 25 26 27
m 0.95 0.75 0.6 0.75 0.9 0.7 0.5 0.35 0.35 0.3
e1 0.95 1.1 1.4 1.6 1.7 1.5 1.3 1.1 1.0 0.9
e2 0.95 0.9 1.0 1.2 1.3 1.1 0.9 0.7 0.7 0.6
e3 0.95 0.8 0.7 0.9 1.0 0.8 0.6 0.5 0.4 0.3
e4 0.95 0.7 0.5 0.6 0.7 0.5 0.3 0.2 0.1 0.0
e5 0.95 0.6 0.3 0.3 0.4 0.3 0.1 -0.1 -0.3 -0.2
e6 0.95 0.5 0.2 0.4 0.6 0.6 0.4 0.1 0.0 0.1
e7 0.95 0.8 0.8 1.0 1.1 0.9 0.6 0.3 0.2 0.4
e8 0.95 0.7 0.6 0.7 0.8 0.7 0.6 0.5 0.6 0.5
e9 0.95 0.9 0.7 0.6 0.8 0.9 0.8 0.6 0.3 0.1
e10 0.95 0.6 0.5 0.8 1.2 1.0 0.7 0.4 0.5 0.7
e11 0.95 0.8 0.6 0.8 0.9 0.7 0.5 0.4 0.4 0.3
e12 0.95 0.7 0.7 0.9 1.0 0.8 0.6 0.4 0.3 0.2
e13 0.95 0.8 0.5 0.6 0.8 0.6 0.4 0.3 0.4 0.5
e14 0.95 0.7 0.6 0.7 0.7 0.5 0.3 0.2 0.2 0.3
}\rawtab
\pgfplotstabletranspose[colnames from=0]{\TDf}{\rawtab}

\begin{document}
\begin{tikzpicture}
\useasboundingbox (0,0) rectangle (633.5pt,-717.5pt);

\panel{42}{-19.5}{1963}{\TAa}{cpink}{15}{\obsA}
\panel{196}{-19.5}{1965}{\TBa}{cpink}{15}{\obsB}
\panel{350}{-19.5}{1982}{\TCa}{cpink}{15}{\obsC}
\panel{504}{-19.5}{1991}{\TDa}{cpink}{15}{\obsD}

\panel{42}{-136.5}{1963}{\TAb}{cred}{8}{\obsA}
\panel{196}{-136.5}{1965}{\TBb}{cred}{8}{\obsB}
\panel{350}{-136.5}{1982}{\TCb}{cred}{8}{\obsC}
\panel{504}{-136.5}{1991}{\TDb}{cred}{8}{\obsD}

\panel{42}{-254}{1963}{\TAc}{corange}{14}{\obsA}
\panel{196}{-254}{1965}{\TBc}{corange}{14}{\obsB}
\panel{350}{-254}{1982}{\TCc}{corange}{14}{\obsC}
\panel{504}{-254}{1991}{\TDc}{corange}{14}{\obsD}

\panel{42}{-371}{1963}{\TAd}{cgreen}{15}{\obsA}
\panel{196}{-371}{1965}{\TBd}{cgreen}{15}{\obsB}
\panel{350}{-371}{1982}{\TCd}{cgreen}{15}{\obsC}
\panel{504}{-371}{1991}{\TDd}{cgreen}{15}{\obsD}

\panel{42}{-488.5}{1963}{\TAe}{ccyan}{8}{\obsA}
\panel{196}{-488.5}{1965}{\TBe}{ccyan}{8}{\obsB}
\panel{350}{-488.5}{1982}{\TCe}{ccyan}{8}{\obsC}
\panel{504}{-488.5}{1991}{\TDe}{ccyan}{8}{\obsD}

\panel{42}{-605.5}{1963}{\TAf}{cblue}{14}{\obsA}
\panel{196}{-605.5}{1965}{\TBf}{cblue}{14}{\obsB}
\panel{350}{-605.5}{1982}{\TCf}{cblue}{14}{\obsC}
\panel{504}{-605.5}{1991}{\TDf}{cblue}{14}{\obsD}

% column titles
\begin{scope}[every node/.style={font=\titlefont\fontsize{10.6}{12}\selectfont}]
\node at (100.5pt,-10pt) {1963};
\node at (254.5pt,-10pt) {1965};
\node at (408.5pt,-10pt) {1982};
\node at (562.5pt,-10pt) {1991};
\end{scope}

% row labels
\begin{scope}[every node/.style={rotate=90, font=\ylabfont\fontsize{12}{14}\selectfont}]
\node at (12.5pt,-65.5pt) {Nov\textsuperscript{-1} Forecasts};
\node at (12.5pt,-182.5pt) {Mar\textsuperscript{0} Forecasts};
\node at (12.5pt,-300pt) {Jun\textsuperscript{0} Forecasts};
\node at (12.5pt,-417pt) {Nov\textsuperscript{0} Forecasts};
\node at (12.5pt,-534.5pt) {Mar\textsuperscript{+1} Forecasts};
\node at (12.5pt,-651.5pt) {Jun\textsuperscript{+1} Forecasts};
\end{scope}
\end{tikzpicture}
\end{document}
